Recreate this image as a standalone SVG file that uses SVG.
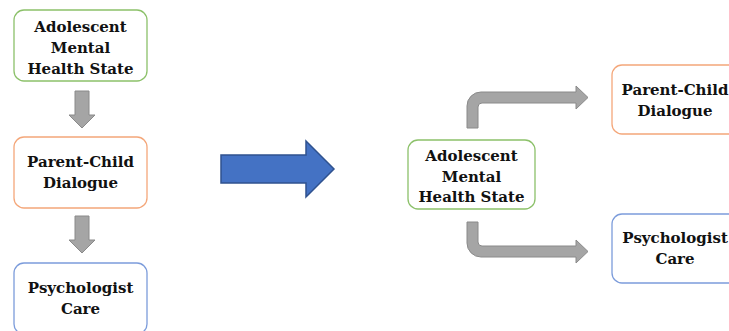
<svg xmlns="http://www.w3.org/2000/svg" width="729" height="331" viewBox="0 0 729 331">
<style>
.box{fill:#fff;stroke-width:1.3}
.g{stroke:#8CC16A}
.o{stroke:#F4A77A}
.b{stroke:#7C9CDB}
.t{font-family:"DejaVu Serif","Liberation Serif",serif;font-weight:bold;font-size:15px;fill:#111;text-anchor:middle}
.ga{fill:#A5A5A5;stroke:#8A8A8A;stroke-width:1}
.ba{fill:#4472C4;stroke:#2F528F;stroke-width:1.5}
</style>
<rect width="729" height="331" fill="#fff"/>
<g id="n1"><rect class="box g" x="14" y="10" width="133" height="71" rx="10"/>
<text class="t" x="80.5" y="32">Adolescent</text><text class="t" x="80.5" y="53">Mental</text><text class="t" x="80.5" y="74">Health State</text></g>
<g id="n2"><rect class="box o" x="14" y="137" width="133" height="71" rx="10"/>
<text class="t" x="80.5" y="167">Parent-Child</text><text class="t" x="80.5" y="188">Dialogue</text></g>
<g id="n3"><rect class="box b" x="14" y="263" width="133" height="71" rx="10"/>
<text class="t" x="80.5" y="293">Psychologist</text><text class="t" x="80.5" y="314">Care</text></g>
<g id="n4"><rect class="box g" x="408" y="140" width="127" height="69" rx="10"/>
<text class="t" x="471.5" y="161">Adolescent</text><text class="t" x="471.5" y="182">Mental</text><text class="t" x="471.5" y="202">Health State</text></g>
<g id="n5"><rect class="box o" x="612" y="65" width="133" height="69" rx="10"/>
<text class="t" x="675" y="95">Parent-Child</text><text class="t" x="675" y="116">Dialogue</text></g>
<g id="n6"><rect class="box b" x="612" y="214" width="133" height="69" rx="10"/>
<text class="t" x="675" y="243">Psychologist</text><text class="t" x="675" y="264">Care</text></g>
<g id="connectors">
<path class="ga" d="M75,91 H89 V115 H95 L82,128 L69,115 H75 Z"/>
<path class="ga" d="M75,216 H89 V240 H95 L82,253 L69,240 H75 Z"/>
<path class="ba" d="M221,155 H306 V141 L334,169 L306,197 V183 H221 Z"/>
<path class="ga" d="M467,128 V106 A14,14 0 0 1 481,92 H576 V86 L588,97.5 L576,109 V103 H482 A4,4 0 0 0 478,107 V128 Z"/>
<path class="ga" d="M467,222 V243 A14,14 0 0 0 481,257 H576 V263 L588,251.5 L576,240 V246 H482 A4,4 0 0 1 478,242 V222 Z"/>
</g>
</svg>
